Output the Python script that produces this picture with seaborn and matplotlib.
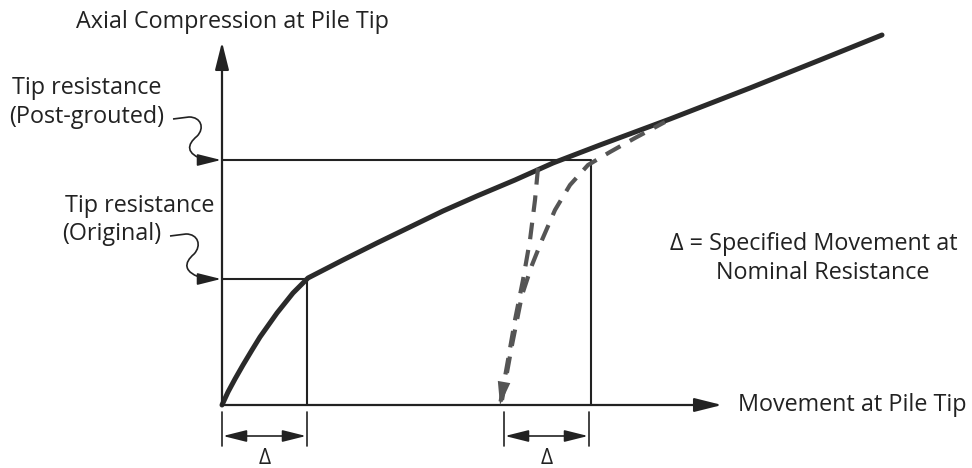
import numpy as np
import pandas as pd
import matplotlib
matplotlib.use("Agg")
import matplotlib.pyplot as plt
import seaborn as sns
from matplotlib.path import Path
from matplotlib.patches import PathPatch

# ---- data (chart units: x = movement, y = axial compression, image-like frame) ----
load_curve_x = [222, 228, 235, 243, 252, 260, 277, 293, 308, 343, 377, 410, 443, 477, 515, 553, 600, 670, 750, 820, 882]
load_curve_y = [405, 392, 379, 365, 350, 337, 313, 293, 278, 260, 243, 227, 211, 196, 180, 163, 145, 119, 88, 60, 35]

unload_x = [538, 535, 530, 523, 515, 508, 500]
unload_y = [168, 200, 240, 280, 320, 360, 405]

reload_x = [502, 512, 522, 532, 542, 555, 570, 588, 610, 635, 665]
reload_y = [400, 345, 295, 265, 240, 210, 185, 165, 152, 138, 122]

origin = (222, 405)
orig_resistance = (307, 279)
post_resistance = (591, 160)
y_axis_top = 42
x_axis_end = 722

sns.set_theme(style="white")
plt.rcParams['font.family'] = ['Open Sans', 'DejaVu Sans']

fig = plt.figure(figsize=(9.72, 4.68), dpi=100)
ax = fig.add_axes([0, 0, 1, 1])
ax.set_xlim(0, 972)
ax.set_ylim(468, 0)
ax.axis("off")

ink = "#222222"
dash_c = "#555555"

# axes arrows
ax.annotate("", xy=(origin[0], y_axis_top), xytext=origin,
            arrowprops=dict(arrowstyle="-|>,head_length=1.4,head_width=0.35", color=ink, lw=1.6, shrinkA=0, shrinkB=0))
ax.annotate("", xy=(x_axis_end, origin[1]), xytext=origin,
            arrowprops=dict(arrowstyle="-|>,head_length=1.4,head_width=0.35", color=ink, lw=1.6, shrinkA=0, shrinkB=0))

# boxes
ax.plot([origin[0], orig_resistance[0], orig_resistance[0]],
        [orig_resistance[1], orig_resistance[1], origin[1]], color=ink, lw=1.5)
ax.plot([origin[0], post_resistance[0], post_resistance[0]],
        [post_resistance[1], post_resistance[1], origin[1]], color=ink, lw=1.5)

# main curve
df = pd.DataFrame({"x": load_curve_x, "y": load_curve_y})
sns.lineplot(data=df, x="x", y="y", sort=False, ax=ax, color="#2a2a2a", lw=3.6, estimator=None)

# dashed curves
du = pd.DataFrame({"x": unload_x, "y": unload_y})
dr = pd.DataFrame({"x": reload_x, "y": reload_y})
sns.lineplot(data=du, x="x", y="y", sort=False, ax=ax, color=dash_c, lw=3, estimator=None,
             linestyle=(0, (4, 2.6)))
sns.lineplot(data=dr, x="x", y="y", sort=False, ax=ax, color=dash_c, lw=3, estimator=None,
             linestyle=(0, (4, 2.6)))
ax.annotate("", xy=(unload_x[-1], unload_y[-1]), xytext=(unload_x[-3], unload_y[-3]),
            arrowprops=dict(arrowstyle="-|>,head_length=1.4,head_width=0.38", color=dash_c, lw=0, shrinkA=0, shrinkB=0))
ax.set_xlabel(""); ax.set_ylabel("")

# dimension markers
for x0, x1 in [(origin[0], orig_resistance[0]), (504, post_resistance[0] - 2)]:
    ax.plot([x0, x0], [412, 446], color=ink, lw=1.2)
    ax.plot([x1, x1], [412, 446], color=ink, lw=1.2)
    ax.annotate("", xy=(x0 + 1, 436), xytext=(x1 - 1, 436),
                arrowprops=dict(arrowstyle="<|-|>,head_length=1.2,head_width=0.3", color=ink, lw=1.2, shrinkA=0, shrinkB=0))
    ax.text((x0 + x1) / 2, 459, "Δ", ha="center", va="center", fontsize=15, color=ink)

# squiggle leader arrows
def squiggle(start, end):
    sx, sy = start
    ex, ey = end
    h = ey - sy
    verts = [(sx, sy), (sx + 16, sy - 2),
             (sx + 28, sy - 2), (sx + 32, sy + 0.22 * h), (sx + 24, sy + 0.42 * h),
             (sx + 14, sy + 0.62 * h), (sx + 12, sy + 0.85 * h), (ex - 16, ey)]
    codes = [Path.MOVETO, Path.LINETO,
             Path.CURVE4, Path.CURVE4, Path.CURVE4,
             Path.CURVE4, Path.CURVE4, Path.CURVE4]
    p = Path(verts, codes)
    ax.add_patch(PathPatch(p, fill=False, color=ink, lw=1.2))
    ax.annotate("", xy=(ex, ey), xytext=(ex - 16, ey),
                arrowprops=dict(arrowstyle="-|>,head_length=1.2,head_width=0.3", color=ink, lw=1.2, shrinkA=0, shrinkB=0))

squiggle((173, 119), (221, post_resistance[1]))
squiggle((170, 236), (221, orig_resistance[1]))

# texts
fs = 16.8
ax.text(76, 22, "Axial Compression at Pile Tip", ha="left", va="center", fontsize=fs, color=ink)
ax.text(12, 88, "Tip resistance", ha="left", va="center", fontsize=fs, color=ink)
ax.text(9, 117, "(Post-grouted)", ha="left", va="center", fontsize=fs, color=ink)
ax.text(65, 206, "Tip resistance", ha="left", va="center", fontsize=fs, color=ink)
ax.text(62, 234, "(Original)", ha="left", va="center", fontsize=fs, color=ink)
ax.text(738, 405, "Movement at Pile Tip", ha="left", va="center", fontsize=fs, color=ink)
ax.text(670, 244, "Δ = Specified Movement at", ha="left", va="center", fontsize=fs, color=ink)
ax.text(823, 273, "Nominal Resistance", ha="center", va="center", fontsize=fs, color=ink)

fig.savefig("out.png", dpi=100)
